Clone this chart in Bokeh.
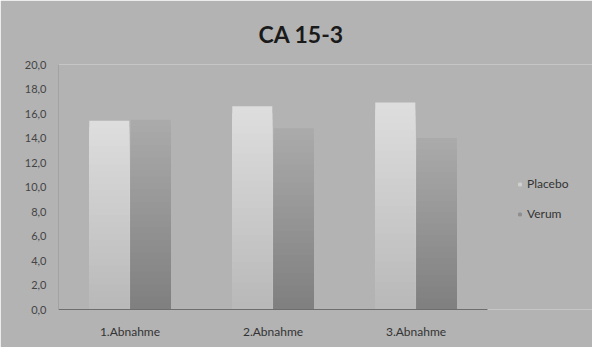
from bokeh.plotting import figure
from bokeh.models import ColumnDataSource, Range1d, FixedTicker, Legend, LegendItem
from bokeh.embed import file_html
from bokeh.resources import INLINE

categories = ["1.Abnahme", "2.Abnahme", "3.Abnahme"]
placebo = [15.4, 16.6, 16.9]
verum = [15.5, 14.8, 14.0]
y_ticks = [0, 2, 4, 6, 8, 10, 12, 14, 16, 18, 20]
y_tick_labels = ["0,0", "2,0", "4,0", "6,0", "8,0", "10,0", "12,0", "14,0", "16,0", "18,0", "20,0"]
series_names = ["Placebo", "Verum"]

BG = "#b3b3b3"
N = 30
ncat = len(categories)
centers = [i + 0.5 for i in range(ncat)]

def hexmix(c1, c2, t):
    a = [int(c1[i:i + 2], 16) for i in (1, 3, 5)]
    b = [int(c2[i:i + 2], 16) for i in (1, 3, 5)]
    m = [round(a[k] + (b[k] - a[k]) * t) for k in range(3)]
    return "#%02x%02x%02x" % tuple(m)

def gradient_source(values, shift, c_bottom, c_top):
    # overlapping layers drawn from tallest to shortest -> seamless gradient
    xs, tops, cols = [], [], []
    for i in range(N - 1, -1, -1):
        for c, v in zip(centers, values):
            xs.append(c + shift)
            tops.append(v * (i + 1) / N)
            cols.append(hexmix(c_bottom, c_top, (i + 0.5) / N))
    return ColumnDataSource(dict(x=xs, top=tops, color=cols))

p = figure(
    x_range=Range1d(0, ncat + 0.734),
    y_range=Range1d(0, 20),
    width=592, height=347,
    output_backend="svg", toolbar_location=None,
    min_border_left=58, min_border_right=0,
    min_border_top=62, min_border_bottom=38,
    background_fill_color=BG, border_fill_color=BG,
    outline_line_color=None,
)
p.title.text = "CA 15-3"
p.title.align = "left"
p.title.offset = 200
p.title.text_font = "Lato"
p.title.text_font_size = "23px"
p.title.text_font_style = "bold"
p.title.text_color = "#1a1a1a"
p.title.standoff = 34

src_p = gradient_source(placebo, -0.145, "#b8b8b8", "#dedede")
src_v = gradient_source(verum, 0.145, "#7f7f7f", "#ababab")

p.vbar(x="x", bottom=0, top="top", width=0.28, source=src_p,
       fill_color="color", line_color=None)
p.vbar(x="x", bottom=0, top="top", width=0.28, source=src_v,
       fill_color="color", line_color=None)

# legend proxies (outside the visible range)
lp = p.scatter(x=[centers[0]], y=[-10], marker="square", size=6, color="#d0d0d0")
lv = p.scatter(x=[centers[0]], y=[-10], marker="square", size=6, color="#8e8e8e")
legend = Legend(items=[LegendItem(label=series_names[0], renderers=[lp]),
                       LegendItem(label=series_names[1], renderers=[lv])],
                location=(458, 88), background_fill_alpha=0, border_line_color=None,
                label_text_font="Lato", label_text_font_size="12px", label_text_color="#333333",
                glyph_width=7, glyph_height=14, label_standoff=4, spacing=15,
                padding=0, margin=0)
p.add_layout(legend, "center")

p.xgrid.grid_line_color = None
p.ygrid.grid_line_color = None

p.yaxis.ticker = FixedTicker(ticks=y_ticks)
p.yaxis.major_label_overrides = {t: l for t, l in zip(y_ticks, y_tick_labels)}
p.yaxis.major_tick_line_color = None
p.yaxis.minor_tick_line_color = None
p.yaxis.axis_line_color = "#a2a2a2"
p.yaxis.major_label_text_font = "Lato"
p.yaxis.major_label_text_font_size = "11px"
p.yaxis.major_label_text_color = "#444444"
p.yaxis.major_label_standoff = 6

p.xaxis.ticker = FixedTicker(ticks=centers)
p.xaxis.major_label_overrides = {c: l for c, l in zip(centers, categories)}
p.xaxis.bounds = (0, ncat)
p.xaxis.axis_line_color = "#6e6e6e"
p.xaxis.major_tick_line_color = None
p.xaxis.minor_tick_line_color = None
p.xaxis.major_label_text_font = "Lato"
p.xaxis.major_label_text_font_size = "12px"
p.xaxis.major_label_text_color = "#333333"
p.xaxis.major_label_standoff = 8

open("out.html", "w").write(file_html(p, INLINE))
